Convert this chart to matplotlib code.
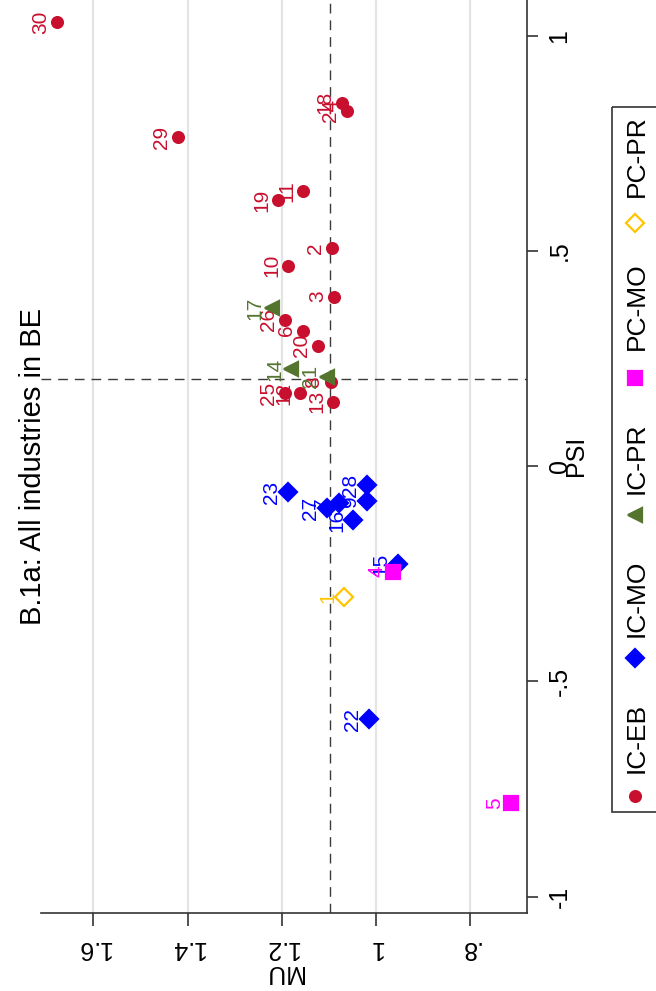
import matplotlib
matplotlib.use("Agg")
import matplotlib.pyplot as plt
from matplotlib.patches import Rectangle

plt.rcParams['font.family'] = ['Liberation Sans', 'DejaVu Sans']

# ---- data: markup (MU) and PSI by industry, grouped by type ----
ic_eb_id = [30, 29, 18, 24, 11, 19, 2, 10, 3, 26, 6, 20, 25, 12, 13, 8]
ic_eb_mu = [1.677, 1.420, 1.072, 1.062, 1.154, 1.207, 1.093, 1.186, 1.089,
            1.193, 1.155, 1.123, 1.193, 1.161, 1.091, 1.096]
ic_eb_psi = [1.031, 0.764, 0.844, 0.826, 0.640, 0.618, 0.506, 0.466, 0.394,
             0.340, 0.315, 0.280, 0.169, 0.169, 0.150, 0.195]

ic_mo_id = [23, 28, 9, 16, 7, 27, 15, 22]
ic_mo_mu = [1.186, 1.019, 1.019, 1.048, 1.079, 1.104, 0.953, 1.014]
ic_mo_psi = [-0.061, -0.044, -0.082, -0.125, -0.086, -0.098, -0.228, -0.588]

ic_pr_id = [17, 14, 21]
ic_pr_mu = [1.221, 1.179, 1.104]
ic_pr_psi = [0.367, 0.225, 0.208]

pc_mo_id = [4, 5]
pc_mo_mu = [0.963, 0.713]
pc_mo_psi = [-0.245, -0.783]

pc_pr_id = [1]
pc_pr_mu = [1.067]
pc_pr_psi = [-0.305]

mu_ref = 1.098
psi_ref = 0.202

mu_ticks = [1.6, 1.4, 1.2, 1.0, 0.8]
mu_ticklabels = ['1.6', '1.4', '1.2', '1', '.8']
psi_ticks = [-1, -0.5, 0, 0.5, 1]
psi_ticklabels = ['-1', '-.5', '0', '.5', '1']

RED = '#C8102E'
BLUE = '#0000FF'
GREEN = '#55752F'
MAGENTA = '#FF00FF'
GOLD = '#FFC400'

W, H = 656, 991
fig = plt.figure(figsize=(W / 100, H / 100), dpi=100)

# plot region (the whole graph is turned a quarter-turn: MU runs right-to-left, PSI bottom-to-top)
x0, x1, ytop, ybot = 41.3, 526.7, 0.0, 912.5
ax = fig.add_axes([x0 / W, (H - ybot) / H, (x1 - x0) / W, (ybot - ytop) / H])
ax.set_xlim(1.7108, 0.679)
ax.set_ylim(-1.0367, 1.0829)

for s in ['top', 'left']:
    ax.spines[s].set_visible(False)
for s in ['bottom', 'right']:
    ax.spines[s].set_color('#333333')
    ax.spines[s].set_linewidth(1.2)

ax.yaxis.tick_right()
ax.yaxis.set_label_position('right')
ax.set_xticks(mu_ticks)
ax.set_xticklabels(mu_ticklabels, rotation=180, fontsize=18)
ax.set_yticks(psi_ticks)
ax.set_yticklabels(psi_ticklabels, rotation=90, va='center', fontsize=18)
ax.tick_params(axis='x', length=9, width=1.2, color='#333333', pad=8)
ax.tick_params(axis='y', length=8, width=1.2, color='#333333', pad=7)
ax.set_xlabel('MU', rotation=180, fontsize=18, labelpad=0)
ax.set_ylabel('PSI', rotation=90, fontsize=18, labelpad=3, va='center')

ax.grid(axis='x', color='#e4e4e4', linewidth=1.6)
ax.set_axisbelow(True)

ax.axvline(mu_ref, color='#3a3a3a', linewidth=1.0, dashes=(7, 5), zorder=1)
ax.axhline(psi_ref, color='#3a3a3a', linewidth=1.0, dashes=(7, 5), zorder=1)

series = [
    (ic_eb_mu, ic_eb_psi, ic_eb_id, 'o', 7.8, RED, RED),
    (ic_mo_mu, ic_mo_psi, ic_mo_id, 'D', 9.2, BLUE, BLUE),
    (ic_pr_mu, ic_pr_psi, ic_pr_id, '<', 10.5, GREEN, GREEN),
    (pc_mo_mu, pc_mo_psi, pc_mo_id, 's', 9.5, MAGENTA, MAGENTA),
    (pc_pr_mu, pc_pr_psi, pc_pr_id, 'D', 9.0, 'none', GOLD),
]

z = 3
for mu, psi, ids, mk, ms, fc, ec in series:
    ax.plot(mu, psi, linestyle='none', marker=mk, markersize=ms,
            markerfacecolor=fc, markeredgecolor=ec, markeredgewidth=1.6, zorder=z)
    for m, p, i in zip(mu, psi, ids):
        ax.annotate(str(i), (m, p), xytext=(-5, 0), textcoords='offset points',
                    rotation=90, ha='right', va='center', fontsize=15,
                    color=ec, zorder=z)
    z += 1

fig.text(33 / W, 1 - 466 / H, 'B.1a: All industries in BE', rotation=90,
         ha='center', va='center', fontsize=21)

# legend box, drawn in pixel space
lg = fig.add_axes([0, 0, 1, 1], facecolor='none')
lg.set_xlim(0, W)
lg.set_ylim(H, 0)
lg.axis('off')
lg.add_patch(Rectangle((611.7, 106.7), 80, 705, fill=False,
                       edgecolor='#333333', linewidth=1.2, clip_on=False))
legend_items = [
    ('IC-EB', 'o', 7.8, RED, RED, 796, 738),
    ('IC-MO', 'D', 9.2, BLUE, BLUE, 658, 598.5),
    ('IC-PR', '<', 10.5, GREEN, GREEN, 515, 458),
    ('PC-MO', 's', 9.5, MAGENTA, MAGENTA, 378, 306.5),
    ('PC-PR', 'D', 9.0, 'none', GOLD, 223, 156.5),
]
for name, mk, ms, fc, ec, my, ty in legend_items:
    lg.plot([635], [my], marker=mk, markersize=ms, markerfacecolor=fc,
            markeredgecolor=ec, markeredgewidth=1.6, linestyle='none')
    lg.text(637, ty, name, rotation=90, ha='center', va='center', fontsize=19)

fig.savefig('out.png', dpi=100)
